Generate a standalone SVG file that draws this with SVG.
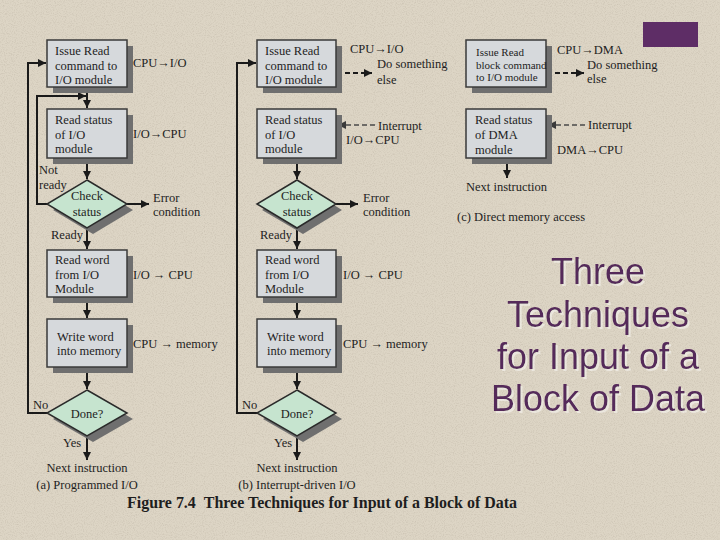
<svg xmlns="http://www.w3.org/2000/svg" width="720" height="540" viewBox="0 0 720 540">
<defs>
<filter id="grain" x="0" y="0" width="100%" height="100%">
<feTurbulence type="fractalNoise" baseFrequency="0.9" numOctaves="2" seed="3" result="n"/>
<feColorMatrix in="n" type="matrix" values="0 0 0 0 0.45  0 0 0 0 0.40  0 0 0 0 0.32  0 0 0 -1.6 0.9" result="d"/>
<feComposite in="d" in2="SourceGraphic" operator="in"/>
</filter>
<filter id="tsh" x="-10%" y="-10%" width="120%" height="130%">
<feOffset dx="1.5" dy="1.5" in="SourceAlpha" result="o"/>
<feFlood flood-color="#ffffff" flood-opacity="0.45"/>
<feComposite in2="o" operator="in" result="s"/>
<feMerge><feMergeNode in="s"/><feMergeNode in="SourceGraphic"/></feMerge>
</filter>
<marker id="ah" viewBox="0 0 10 10" refX="10" refY="5" markerUnits="userSpaceOnUse" markerWidth="9" markerHeight="8" orient="auto">
<path d="M0,0 L10,5 L0,10 z" fill="#1a1a1a"/>
</marker>
<marker id="ahg" viewBox="0 0 10 10" refX="10" refY="5" markerUnits="userSpaceOnUse" markerWidth="9" markerHeight="8" orient="auto">
<path d="M0,0 L10,5 L0,10 z" fill="#3a3a3a"/>
</marker>
</defs>
<style>
.box{fill:#d6d9dc;stroke:#3a3a3a;stroke-width:1.5}
.dia{fill:#c6e4cf;stroke:#2a2a2a;stroke-width:1.5}
.sh{fill:#6f6f6f}
.t{font-family:"Liberation Serif","Times New Roman",serif;font-size:12.5px;fill:#1e1e1e}
.ts{font-family:"Liberation Serif","Times New Roman",serif;font-size:11px;fill:#1e1e1e}
.c{text-anchor:middle}
.ln{fill:none;stroke:#1a1a1a;stroke-width:2}
.dl{fill:none;stroke:#1a1a1a;stroke-width:2;stroke-dasharray:5,3}
.dg{fill:none;stroke:#4a4a4a;stroke-width:1.6;stroke-dasharray:5,3}
.title{font-family:"Liberation Sans",Arial,sans-serif;font-size:36px;fill:#55295a;text-anchor:middle}
.cap{font-family:"Liberation Serif","Times New Roman",serif;font-size:16px;font-weight:bold;fill:#1e1e1e}
</style>

<rect x="0" y="0" width="720" height="540" fill="#ddd5c5"/>
<rect x="0" y="0" width="720" height="540" fill="#ddd5c5" filter="url(#grain)" opacity="0.5"/>

<rect id="badge" x="643" y="22" width="55" height="25" fill="#5e2d66"/>

<g id="connectors">
<!-- (a) -->
<path class="ln" d="M87,88 V108" marker-end="url(#ah)"/>
<path class="ln" d="M47,204 H37 V96 H86" marker-end="url(#ah)"/>
<path class="ln" d="M87,158 V179" marker-end="url(#ah)"/>
<path class="ln" d="M127,204 H149" marker-end="url(#ah)"/>
<path class="ln" d="M87,228 V249" marker-end="url(#ah)"/>
<path class="ln" d="M87,297 V318" marker-end="url(#ah)"/>
<path class="ln" d="M87,367 V389" marker-end="url(#ah)"/>
<path class="ln" d="M47,413 H28 V63 H46" marker-end="url(#ah)"/>
<path class="ln" d="M87,436 V460" marker-end="url(#ah)"/>
<!-- (b) -->
<path class="dl" d="M337,73 H372" marker-end="url(#ah)"/>
<path class="dg" d="M375,125 H338" marker-end="url(#ahg)"/>
<path class="ln" d="M297,158 V179" marker-end="url(#ah)"/>
<path class="ln" d="M336,204 H358" marker-end="url(#ah)"/>
<path class="ln" d="M297,228 V249" marker-end="url(#ah)"/>
<path class="ln" d="M297,297 V318" marker-end="url(#ah)"/>
<path class="ln" d="M297,367 V389" marker-end="url(#ah)"/>
<path class="ln" d="M257,413 H237 V63 H256" marker-end="url(#ah)"/>
<path class="ln" d="M297,436 V460" marker-end="url(#ah)"/>
<!-- (c) -->
<path class="dl" d="M547,73 H584" marker-end="url(#ah)"/>
<path class="dg" d="M585,125 H548" marker-end="url(#ahg)"/>
<path class="ln" d="M507,158 V178" marker-end="url(#ah)"/>
</g>

<!-- (a) nodes -->
<g id="a-issue">
<rect class="sh" x="53" y="46" width="80" height="47"/>
<rect class="box" x="47" y="40" width="80" height="47"/>
<text class="t" x="55" y="55">Issue Read</text>
<text class="t" x="55" y="70">command to</text>
<text class="t" x="55" y="84">I/O module</text>
</g>
<g id="a-status">
<rect class="sh" x="53" y="115" width="80" height="49"/>
<rect class="box" x="47" y="109" width="80" height="49"/>
<text class="t" x="55" y="124">Read status</text>
<text class="t" x="55" y="139">of I/O</text>
<text class="t" x="55" y="153">module</text>
</g>
<g id="a-check">
<path class="sh" d="M93,186 L133,210 L93,234 L53,210 Z"/>
<path class="dia" d="M87,180 L127,204 L87,228 L47,204 Z"/>
<text class="t c" x="87" y="200">Check</text>
<text class="t c" x="87" y="216">status</text>
</g>
<g id="a-readword">
<rect class="sh" x="53" y="256" width="80" height="47"/>
<rect class="box" x="47" y="250" width="80" height="47"/>
<text class="t" x="55" y="264">Read word</text>
<text class="t" x="55" y="279">from I/O</text>
<text class="t" x="55" y="293">Module</text>
</g>
<g id="a-write">
<rect class="sh" x="53" y="325" width="80" height="48"/>
<rect class="box" x="47" y="319" width="80" height="48"/>
<text class="t" x="57" y="341">Write word</text>
<text class="t" x="57" y="355">into memory</text>
</g>
<g id="a-done">
<path class="sh" d="M93,396 L133,419 L93,442 L53,419 Z"/>
<path class="dia" d="M87,390 L127,413 L87,436 L47,413 Z"/>
<text class="t c" x="87" y="418">Done?</text>
</g>
<g id="a-labels">
<text class="t" x="133" y="67">CPU→I/O</text>
<text class="t" x="133" y="138">I/O→CPU</text>
<text class="t" x="153" y="202">Error</text>
<text class="t" x="153" y="216">condition</text>
<text class="t" x="39" y="174">Not</text>
<text class="t" x="39" y="189">ready</text>
<text class="t" x="51" y="239">Ready</text>
<text class="t" x="133" y="279">I/O → CPU</text>
<text class="t" x="133" y="348">CPU → memory</text>
<text class="t" x="33" y="409">No</text>
<text class="t" x="63" y="447">Yes</text>
<text class="t c" x="87" y="472">Next instruction</text>
<text class="t c" x="87" y="489">(a) Programmed I/O</text>
</g>

<!-- (b) nodes -->
<g id="b-issue">
<rect class="sh" x="263" y="46" width="79" height="47"/>
<rect class="box" x="257" y="40" width="79" height="47"/>
<text class="t" x="265" y="55">Issue Read</text>
<text class="t" x="265" y="70">command to</text>
<text class="t" x="265" y="84">I/O module</text>
</g>
<g id="b-status">
<rect class="sh" x="263" y="115" width="79" height="49"/>
<rect class="box" x="257" y="109" width="79" height="49"/>
<text class="t" x="265" y="124">Read status</text>
<text class="t" x="265" y="139">of I/O</text>
<text class="t" x="265" y="153">module</text>
</g>
<g id="b-check">
<path class="sh" d="M303,186 L342,210 L303,234 L262,210 Z"/>
<path class="dia" d="M297,180 L336,204 L297,228 L257,204 Z"/>
<text class="t c" x="297" y="200">Check</text>
<text class="t c" x="297" y="216">status</text>
</g>
<g id="b-readword">
<rect class="sh" x="263" y="256" width="79" height="47"/>
<rect class="box" x="257" y="250" width="79" height="47"/>
<text class="t" x="265" y="264">Read word</text>
<text class="t" x="265" y="279">from I/O</text>
<text class="t" x="265" y="293">Module</text>
</g>
<g id="b-write">
<rect class="sh" x="263" y="325" width="79" height="48"/>
<rect class="box" x="257" y="319" width="79" height="48"/>
<text class="t" x="267" y="341">Write word</text>
<text class="t" x="267" y="355">into memory</text>
</g>
<g id="b-done">
<path class="sh" d="M303,396 L342,419 L303,442 L263,419 Z"/>
<path class="dia" d="M297,390 L336,413 L297,436 L257,413 Z"/>
<text class="t c" x="297" y="418">Done?</text>
</g>
<g id="b-labels">
<text class="t" x="350" y="53">CPU→I/O</text>
<text class="t" x="377" y="68">Do something</text>
<text class="t" x="377" y="84">else</text>
<text class="t" x="378" y="130">Interrupt</text>
<text class="t" x="346" y="144">I/O→CPU</text>
<text class="t" x="363" y="202">Error</text>
<text class="t" x="363" y="216">condition</text>
<text class="t" x="260" y="239">Ready</text>
<text class="t" x="343" y="279">I/O → CPU</text>
<text class="t" x="343" y="348">CPU → memory</text>
<text class="t" x="242" y="409">No</text>
<text class="t" x="274" y="447">Yes</text>
<text class="t c" x="297" y="472">Next instruction</text>
<text class="t c" x="297" y="489">(b) Interrupt-driven I/O</text>
</g>

<!-- (c) nodes -->
<g id="c-issue">
<rect class="sh" x="472" y="46" width="80" height="47"/>
<rect class="box" x="466" y="40" width="80" height="47"/>
<text class="ts" x="476" y="56">Issue Read</text>
<text class="ts" x="476" y="69">block command</text>
<text class="ts" x="476" y="81">to I/O module</text>
</g>
<g id="c-status">
<rect class="sh" x="472" y="115" width="80" height="49"/>
<rect class="box" x="466" y="109" width="80" height="49"/>
<text class="t" x="475" y="124">Read status</text>
<text class="t" x="475" y="139">of DMA</text>
<text class="t" x="475" y="154">module</text>
</g>
<g id="c-labels">
<text class="t" x="557" y="54">CPU→DMA</text>
<text class="t" x="587" y="69">Do something</text>
<text class="t" x="587" y="83">else</text>
<text class="t" x="588" y="129">Interrupt</text>
<text class="t" x="557" y="154">DMA→CPU</text>
<text class="t" x="466" y="191">Next instruction</text>
<text class="t" x="457" y="221">(c) Direct memory access</text>
</g>

<text class="cap" x="127" y="508" textLength="390" lengthAdjust="spacingAndGlyphs">Figure 7.4<tspan dx="8">Three Techniques for Input of a Block of Data</tspan></text>

<g id="title" filter="url(#tsh)">
<text class="title" x="598" y="284">Three</text>
<text class="title" x="598" y="327">Techniques</text>
<text class="title" x="598" y="369">for Input of a</text>
<text class="title" x="598" y="411">Block of Data</text>
</g>
</svg>
